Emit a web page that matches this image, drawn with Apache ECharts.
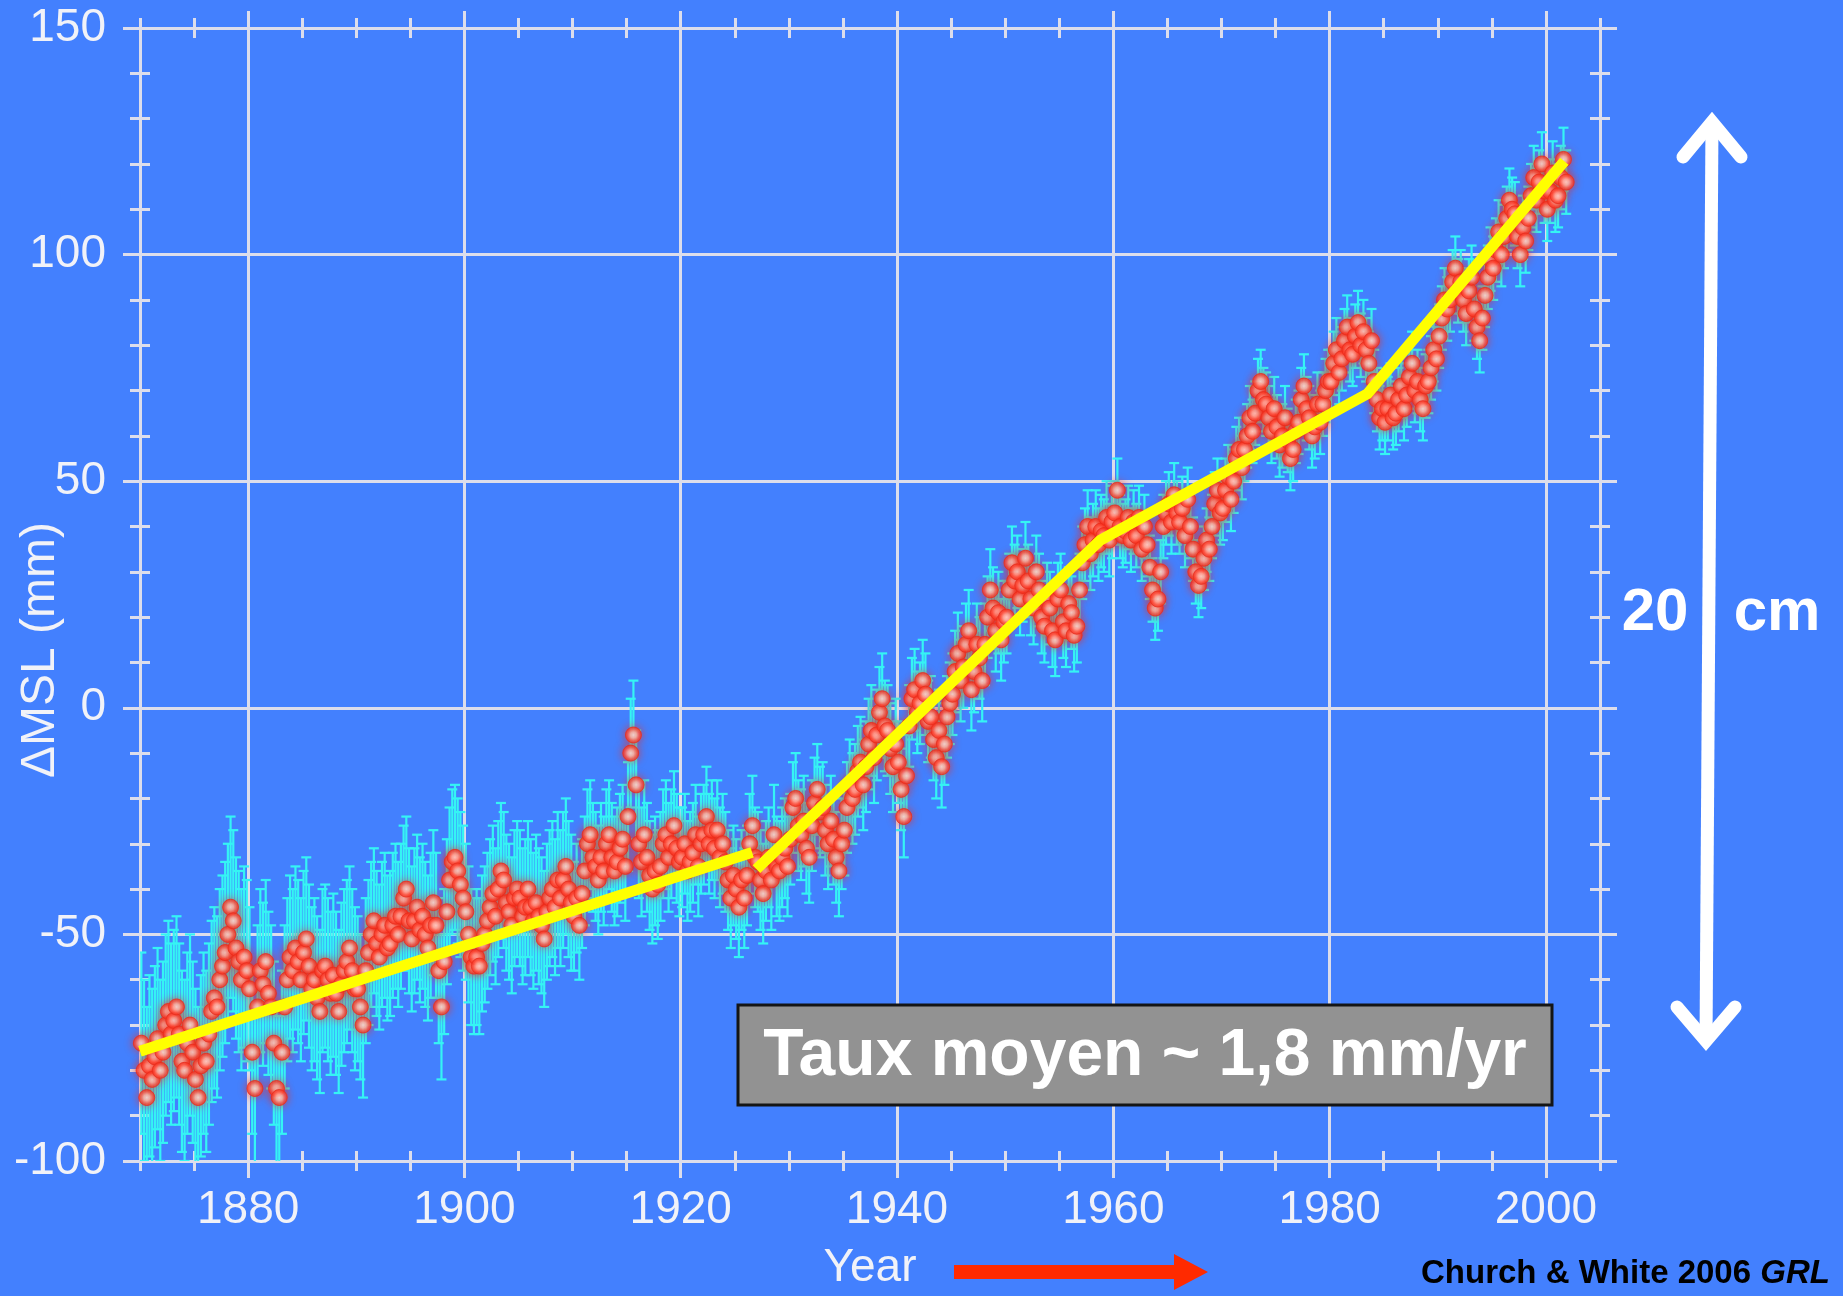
<!DOCTYPE html>
<html>
<head>
<meta charset="utf-8">
<script src="https://cdn.jsdelivr.net/npm/echarts@6/dist/echarts.min.js"></script>
<style>
  html, body { margin: 0; padding: 0; background: #4380FE; }
  #chart { width: 1843px; height: 1296px; }
</style>
</head>
<body>
<div id="chart"></div>
<script>
// Global mean sea level (mm), four samples per year, one array per decade
const msl1870s = [
  -74, -80, -86, -79,
  -82, -77, -73, -80,
  -76, -70, -67, -72,
  -69, -66, -72, -78,
  -80, -74, -70, -76,
  -82, -86, -79, -74,
  -78, -72, -67, -64,
  -66, -60, -57, -54,
  -50, -44, -47, -53,
  -56, -60, -55, -58
];
const msl1880s = [
  -62, -76, -84, -66,
  -58, -61, -56, -63,
  -66, -74, -84, -86,
  -76, -66, -60, -55,
  -58, -53, -56, -60,
  -54, -51, -57, -62,
  -60, -64, -67, -58,
  -57, -60, -63, -59,
  -63, -67, -61, -58,
  -56, -53, -58, -62
];
const msl1890s = [
  -62, -66, -70, -58,
  -54, -50, -47, -52,
  -55, -50, -48, -53,
  -52, -48, -46, -50,
  -46, -42, -40, -47,
  -51, -47, -44, -49,
  -46, -50, -53, -48,
  -43, -48, -58, -66,
  -56, -45, -38, -34,
  -33, -36, -39, -42
];
const msl1900s = [
  -45, -50, -55, -57,
  -55, -57, -52, -50,
  -47, -44, -41, -46,
  -40, -36, -38, -43,
  -45, -48, -42, -40,
  -42, -46, -44, -40,
  -44, -47, -43, -46,
  -48, -51, -45, -42,
  -40, -44, -38, -42,
  -38, -35, -40, -43
];
const msl1910s = [
  -46, -42, -48, -41,
  -36, -30, -28, -33,
  -35, -38, -33, -36,
  -30, -28, -33, -36,
  -34, -31, -29, -35,
  -24, -10, -6, -17,
  -30, -34, -28, -33,
  -37, -40, -36, -39,
  -35, -30, -28, -33,
  -30, -26, -31, -34
];
const msl1920s = [
  -33, -30, -36, -34,
  -32, -28, -35, -30,
  -28, -24, -30, -27,
  -31, -27, -33, -30,
  -34, -38, -42, -37,
  -40, -44, -38, -42,
  -37, -30, -26, -33,
  -34, -38, -41, -36,
  -33, -38, -28, -35,
  -36, -33, -31, -35
];
const msl1930s = [
  -29, -22, -20, -26,
  -28, -25, -31, -33,
  -26, -21, -18, -23,
  -22, -27, -30, -25,
  -29, -33, -36, -30,
  -27, -22, -17, -20,
  -18, -14, -12, -17,
  -13, -8, -5, -11,
  -6, -1, 2, -4,
  -5, -9, -13, -8
];
const msl1940s = [
  -12, -18, -24, -15,
  -4, 2, 4, -1,
  1, 6, 3, -3,
  -2, -7, -11, -5,
  -13, -8, -2, 1,
  3, 8, 12, 6,
  9, 14, 17, 4,
  8, 14, 11, 6,
  14, 20, 26, 22,
  17, 21, 15, 19
];
const msl1950s = [
  20, 26, 32, 28,
  30, 24, 27, 33,
  28, 24, 22, 30,
  26, 20, 18, 24,
  22, 17, 15, 24,
  26, 19, 17, 23,
  21, 16, 18, 26,
  32, 36, 40, 34,
  37, 40, 36, 39,
  38, 42, 37, 41
];
const msl1960s = [
  43, 48, 40, 38,
  39, 42, 37, 41,
  38, 42, 35, 40,
  36, 31, 26, 22,
  24, 30, 40, 43,
  45, 41, 47, 43,
  41, 44, 38, 46,
  40, 35, 30, 27,
  29, 33, 37, 35,
  40, 45, 48, 43
];
const msl1970s = [
  44, 48, 51, 46,
  50, 55, 57, 53,
  57, 60, 64, 61,
  65, 70, 72, 68,
  67, 64, 61, 66,
  62, 58, 60, 64,
  59, 55, 57, 61,
  63, 68, 71, 66,
  64, 60, 62, 67,
  63, 67, 70, 72
];
const msl1980s = [
  72, 76, 79, 74,
  77, 81, 84, 79,
  78, 82, 85, 80,
  83, 79, 76, 81,
  72, 68, 64, 66,
  63, 66, 69, 64,
  65, 68, 71, 66,
  69, 73, 76, 70,
  72, 68, 66, 71,
  72, 75, 79, 77
];
const msl1990s = [
  82, 86, 90, 88,
  90, 94, 97, 92,
  94, 90, 87, 92,
  95, 88, 84, 81,
  86, 91, 95, 99,
  97, 101, 105, 100,
  104, 108, 112, 110,
  109, 104, 100, 106,
  103, 108, 113, 117,
  112, 116, 120, 114
];
const msl2000s = [
  110, 114, 118, 112,
  113, 117, 121, 116
];

// One-sigma uncertainty (mm) for each decade, 1870s .. 2000s
const errByDecade = [20, 18, 16, 15, 12, 11, 10, 9, 8, 7, 7, 7, 7, 7];

// Piecewise linear trends (year, mm)
const trendEarly = [[1870.0, -75.8], [1926.6, -31.9]];
const trendLate = [[1927.0, -35.6], [1958.8, 37.0], [1983.5, 69.3], [2001.7, 120.6]];

// Axis ticks
const majorYears = [1880, 1900, 1920, 1940, 1960, 1980, 2000];
const yearMin = 1870, yearMax = 2005;
const mslMin = -100, mslMax = 150;

const decades = [msl1870s, msl1880s, msl1890s, msl1900s, msl1910s, msl1920s, msl1930s,
                 msl1940s, msl1950s, msl1960s, msl1970s, msl1980s, msl1990s, msl2000s];
const points = [];
const bars = [];
decades.forEach((arr, d) => {
  arr.forEach((v, i) => {
    const t = 1870 + d * 10 + Math.floor(i / 4) + ((i % 4) + 0.5) / 4;
    points.push([t, v]);
    bars.push([t, v - errByDecade[d], v + errByDecade[d]]);
  });
});

const gridColor = '#DCDDEB';
const labelColor = '#F1F2F8';
const fontFamily = '"Liberation Sans", Arial, Helvetica, sans-serif';

function minorX(position, inside) {
  return {
    type: 'value', min: yearMin, max: yearMax, interval: 5, position: position,
    axisLine: { show: false, onZero: false },
    axisTick: { show: true, inside: inside, length: 10, lineStyle: { color: gridColor, width: 3 } },
    axisLabel: { show: false }, splitLine: { show: false }
  };
}
function minorY(position, inside) {
  return {
    type: 'value', min: mslMin, max: mslMax, interval: 10, position: position,
    axisLine: { show: false, onZero: false },
    axisTick: { show: true, inside: inside, length: 10, lineStyle: { color: gridColor, width: 3 } },
    axisLabel: { show: false }, splitLine: { show: false }
  };
}

const chart = echarts.init(document.getElementById('chart'), null, { renderer: 'canvas' });
chart.setOption({
  backgroundColor: '#4380FE',
  animation: false,
  grid: { left: 140, right: 243, top: 28, bottom: 131, containLabel: false },
  xAxis: [
    {
      type: 'value', min: yearMin, max: yearMax, position: 'bottom',
      axisLine: { show: true, onZero: false, lineStyle: { color: gridColor, width: 3 } },
      axisTick: { show: true, customValues: majorYears, length: 17, lineStyle: { color: gridColor, width: 3 } },
      axisLabel: {
        customValues: majorYears, color: labelColor, fontSize: 46, fontFamily: fontFamily, margin: 26,
        formatter: function (v) { return String(v); }
      },
      splitLine: { show: true, lineStyle: { color: gridColor, width: 3 } },
      name: 'Year', nameLocation: 'middle', nameGap: 84,
      nameTextStyle: { color: labelColor, fontSize: 46, fontFamily: fontFamily }
    },
    minorX('bottom', false),
    minorX('bottom', true),
    {
      type: 'value', min: yearMin, max: yearMax, position: 'top',
      axisLine: { show: true, onZero: false, lineStyle: { color: gridColor, width: 3 } },
      axisTick: { show: true, customValues: majorYears, length: 17, lineStyle: { color: gridColor, width: 3 } },
      axisLabel: { show: false }, splitLine: { show: false }
    },
    minorX('top', false),
    minorX('top', true)
  ],
  yAxis: [
    {
      type: 'value', min: mslMin, max: mslMax, interval: 50, position: 'left',
      axisLine: { show: true, onZero: false, lineStyle: { color: gridColor, width: 3 } },
      axisTick: { show: true, length: 17, lineStyle: { color: gridColor, width: 3 } },
      axisLabel: { color: labelColor, fontSize: 46, fontFamily: fontFamily, margin: 34 },
      splitLine: { show: true, lineStyle: { color: gridColor, width: 3 } }
    },
    minorY('left', false),
    minorY('left', true),
    {
      type: 'value', min: mslMin, max: mslMax, interval: 50, position: 'right',
      axisLine: { show: true, onZero: false, lineStyle: { color: gridColor, width: 3 } },
      axisTick: { show: true, length: 17, lineStyle: { color: gridColor, width: 3 } },
      axisLabel: { show: false }, splitLine: { show: false }
    },
    minorY('right', false),
    minorY('right', true)
  ],
  series: [
    {
      name: 'uncertainty', type: 'custom', xAxisIndex: 0, yAxisIndex: 0, z: 3,
      data: bars,
      renderItem: function (params, api) {
        const lo = api.coord([api.value(0), api.value(1)]);
        const hi = api.coord([api.value(0), api.value(2)]);
        const cap = 5;
        const style = { stroke: '#35F4F4', lineWidth: 2.2 };
        return {
          type: 'group',
          children: [
            { type: 'line', shape: { x1: lo[0], y1: lo[1], x2: hi[0], y2: hi[1] }, style: style },
            { type: 'line', shape: { x1: lo[0] - cap, y1: lo[1], x2: lo[0] + cap, y2: lo[1] }, style: style },
            { type: 'line', shape: { x1: hi[0] - cap, y1: hi[1], x2: hi[0] + cap, y2: hi[1] }, style: style }
          ]
        };
      },
      clip: true
    },
    {
      name: 'GMSL', type: 'scatter', xAxisIndex: 0, yAxisIndex: 0, z: 4,
      data: points, symbol: 'circle', symbolSize: 16,
      itemStyle: {
        color: new echarts.graphic.RadialGradient(0.5, 0.5, 0.5, [
          { offset: 0, color: '#FFF2EE' },
          { offset: 0.35, color: '#FFC2B6' },
          { offset: 0.7, color: '#FF5A48' },
          { offset: 1, color: '#EC2A1A' }
        ]),
        borderColor: '#E8301F', borderWidth: 1,
        shadowColor: 'rgba(250, 40, 20, 0.85)', shadowBlur: 8
      }
    },
    {
      name: 'trend 1870-1927', type: 'line', xAxisIndex: 0, yAxisIndex: 0, z: 5,
      data: trendEarly, symbol: 'none',
      lineStyle: { color: '#FFFF00', width: 11, cap: 'butt' }
    },
    {
      name: 'trend 1927-2002', type: 'line', xAxisIndex: 0, yAxisIndex: 0, z: 5,
      data: trendLate, symbol: 'none',
      lineStyle: { color: '#FFFF00', width: 11, cap: 'butt', join: 'miter' }
    }
  ],
  graphic: {
    elements: [
      {
        type: 'text', x: 41, y: 650, rotation: Math.PI / 2, z: 50,
        style: {
          text: 'ΔMSL (mm)', fill: labelColor, font: '48px ' + fontFamily,
          align: 'center', verticalAlign: 'middle', textAlign: 'center', textVerticalAlign: 'middle'
        }
      },
      {
        type: 'rect', z: 60,
        shape: { x: 738, y: 1005, width: 814, height: 100 },
        style: { fill: '#929292', stroke: '#151515', lineWidth: 3 }
      },
      {
        type: 'text', x: 1145, y: 1057, z: 61,
        style: {
          text: 'Taux moyen ~ 1,8 mm/yr', fill: '#FFFFFF', font: 'bold 66px ' + fontFamily,
          align: 'center', verticalAlign: 'middle', textAlign: 'center', textVerticalAlign: 'middle'
        }
      },
      {
        type: 'line', z: 60,
        shape: { x1: 1712, y1: 122, x2: 1706, y2: 1041 },
        style: { stroke: '#FFFFFF', lineWidth: 13 }
      },
      {
        type: 'polyline', z: 60,
        shape: { points: [[1683, 157], [1712, 122], [1741, 157]] },
        style: { stroke: '#FFFFFF', lineWidth: 13, lineCap: 'round', lineJoin: 'miter', fill: 'none' }
      },
      {
        type: 'polyline', z: 60,
        shape: { points: [[1677, 1007], [1706, 1041], [1735, 1007]] },
        style: { stroke: '#FFFFFF', lineWidth: 13, lineCap: 'round', lineJoin: 'miter', fill: 'none' }
      },
      {
        type: 'text', x: 1655, y: 613, z: 61,
        style: {
          text: '20', fill: '#FFFFFF', font: 'bold 60px ' + fontFamily,
          align: 'center', verticalAlign: 'middle', textAlign: 'center', textVerticalAlign: 'middle'
        }
      },
      {
        type: 'text', x: 1777, y: 613, z: 61,
        style: {
          text: 'cm', fill: '#FFFFFF', font: 'bold 60px ' + fontFamily,
          align: 'center', verticalAlign: 'middle', textAlign: 'center', textVerticalAlign: 'middle'
        }
      },
      {
        type: 'polygon', z: 60,
        shape: { points: [[954, 1265], [1174, 1265], [1174, 1254], [1208, 1272], [1174, 1290], [1174, 1279], [954, 1279]] },
        style: { fill: '#FF2A00' }
      },
      {
        type: 'text', x: 1421, y: 1274, z: 61,
        style: {
          text: '{b|Church & White 2006 }{i|GRL}',
          verticalAlign: 'middle', textVerticalAlign: 'middle',
          rich: {
            b: { fill: '#000000', fontSize: 33, fontWeight: 'bold', fontFamily: fontFamily },
            i: { fill: '#000000', fontSize: 33, fontWeight: 'bold', fontStyle: 'italic', fontFamily: fontFamily }
          }
        }
      }
    ]
  }
});
</script>
</body>
</html>
